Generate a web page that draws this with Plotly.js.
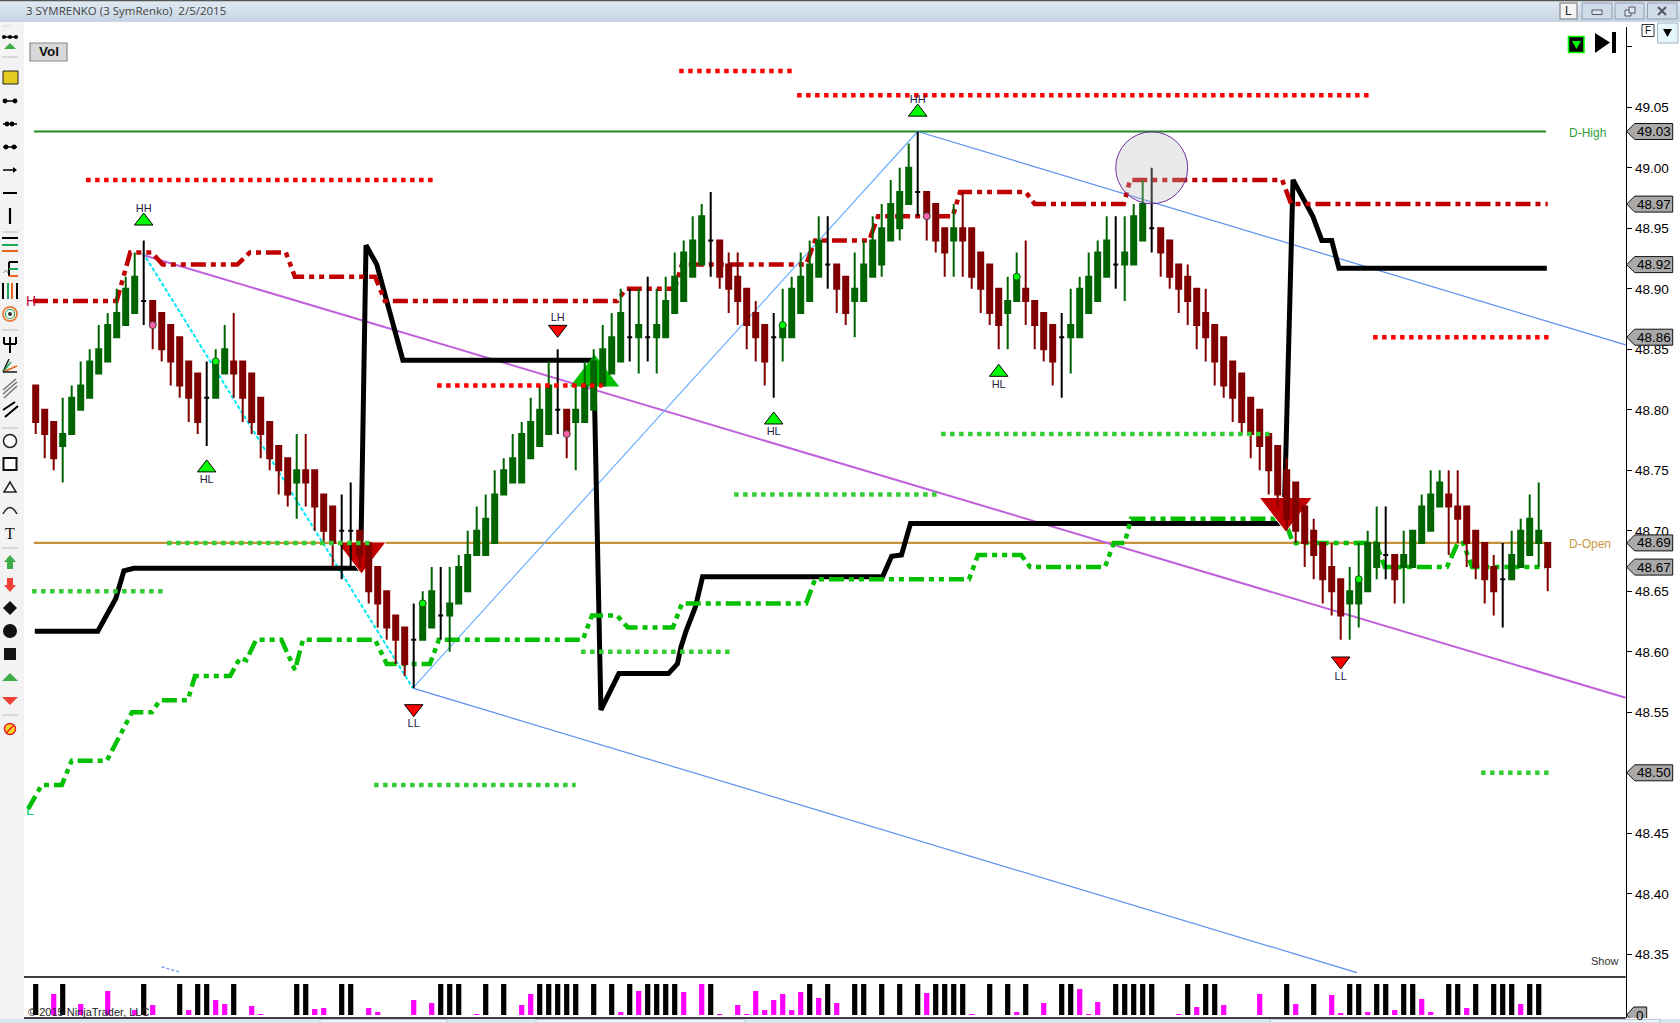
<!DOCTYPE html>
<html><head><meta charset="utf-8">
<script src="https://cdn.plot.ly/plotly-3.0.1.min.js"></script>
<style>html,body{margin:0;padding:0;background:#fff;overflow:hidden}#c{width:1680px;height:1023px}</style>
</head><body><div id="c"></div>
<script>
// ---------- price data (one renko bar per index) ----------
const opens=[48.82,48.80,48.79,48.77,48.78,48.80,48.81,48.83,48.84,48.86,
48.87,48.88,48.89,48.89,48.88,48.87,48.86,48.84,48.83,48.81,
48.81,48.83,48.84,48.84,48.83,48.81,48.79,48.77,48.76,48.74,
48.75,48.75,48.73,48.72,48.70,48.70,48.70,48.69,48.67,48.65,
48.63,48.62,48.61,48.61,48.62,48.63,48.63,48.64,48.65,48.68,
48.68,48.69,48.73,48.74,48.74,48.76,48.77,48.78,48.80,48.80,
48.79,48.79,48.80,48.82,48.83,48.84,48.86,48.86,48.86,48.86,
48.86,48.88,48.89,48.91,48.92,48.94,48.94,48.92,48.91,48.90,
48.88,48.87,48.86,48.86,48.86,48.88,48.89,48.91,48.92,48.92,
48.91,48.89,48.89,48.91,48.92,48.94,48.95,48.97,48.98,48.98,
48.97,48.95,48.94,48.95,48.95,48.93,48.92,48.90,48.88,48.89,
48.90,48.89,48.88,48.87,48.86,48.86,48.86,48.88,48.89,48.91,
48.92,48.92,48.92,48.94,48.95,48.95,48.94,48.92,48.91,48.90,
48.88,48.87,48.86,48.84,48.83,48.81,48.80,48.78,48.77,48.75,
48.74,48.72,48.70,48.69,48.67,48.66,48.64,48.64,48.65,48.67,
48.68,48.68,48.67,48.67,48.69,48.70,48.72,48.73,48.72,48.72,
48.70,48.69,48.67,48.66,48.66,48.67,48.68,48.69,48.69];
const closes=[48.79,48.78,48.76,48.78,48.81,48.82,48.84,48.85,48.87,48.88,
48.90,48.91,48.89,48.87,48.85,48.84,48.82,48.81,48.79,48.81,
48.84,48.85,48.83,48.81,48.79,48.78,48.76,48.75,48.73,48.75,
48.74,48.72,48.70,48.69,48.70,48.70,48.68,48.65,48.64,48.62,
48.61,48.59,48.61,48.64,48.65,48.63,48.64,48.67,48.68,48.70,
48.71,48.73,48.75,48.76,48.78,48.79,48.80,48.82,48.80,48.78,
48.80,48.82,48.84,48.85,48.86,48.88,48.86,48.87,48.86,48.87,
48.89,48.91,48.93,48.94,48.96,48.94,48.91,48.90,48.89,48.87,
48.86,48.84,48.86,48.87,48.90,48.91,48.92,48.94,48.92,48.90,
48.88,48.90,48.92,48.94,48.95,48.97,48.98,49.00,48.98,48.96,
48.94,48.93,48.95,48.94,48.91,48.90,48.88,48.87,48.89,48.91,
48.89,48.87,48.85,48.84,48.86,48.87,48.90,48.91,48.93,48.94,
48.92,48.93,48.96,48.97,48.95,48.93,48.91,48.90,48.89,48.87,
48.86,48.84,48.82,48.81,48.79,48.78,48.77,48.75,48.73,48.71,
48.70,48.69,48.68,48.66,48.65,48.63,48.65,48.66,48.69,48.69,
48.68,48.66,48.68,48.70,48.72,48.73,48.74,48.72,48.71,48.69,
48.67,48.66,48.65,48.66,48.68,48.70,48.71,48.70,48.67];
const highs=[48.82,48.80,48.79,48.81,48.82,48.84,48.85,48.87,48.88,48.90,
48.91,48.93,48.94,48.89,48.88,48.87,48.86,48.84,48.83,48.84,
48.85,48.87,48.88,48.84,48.83,48.81,48.79,48.77,48.76,48.78,
48.78,48.75,48.73,48.72,48.73,48.74,48.70,48.69,48.67,48.65,
48.63,48.62,48.64,48.65,48.67,48.67,48.67,48.68,48.70,48.72,
48.73,48.75,48.76,48.78,48.79,48.81,48.82,48.84,48.85,48.80,
48.82,48.84,48.85,48.87,48.88,48.90,48.90,48.90,48.91,48.90,
48.91,48.93,48.94,48.96,48.97,48.98,48.94,48.93,48.93,48.90,
48.89,48.87,48.88,48.90,48.91,48.93,48.94,48.96,48.96,48.92,
48.91,48.93,48.94,48.96,48.97,48.99,49.00,49.02,49.03,48.98,
48.97,48.95,48.97,48.98,48.95,48.93,48.92,48.90,48.91,48.93,
48.94,48.89,48.88,48.87,48.88,48.90,48.91,48.93,48.94,48.96,
48.96,48.96,48.97,48.99,49.00,48.95,48.94,48.92,48.92,48.90,
48.90,48.87,48.86,48.84,48.83,48.81,48.80,48.78,48.77,48.76,
48.74,48.72,48.71,48.69,48.69,48.66,48.67,48.69,48.70,48.72,
48.72,48.68,48.70,48.70,48.73,48.75,48.75,48.75,48.75,48.72,
48.70,48.69,48.68,48.69,48.70,48.71,48.73,48.74,48.69];
const lows=[48.78,48.76,48.75,48.74,48.78,48.80,48.81,48.83,48.84,48.86,
48.87,48.88,48.87,48.85,48.84,48.82,48.81,48.79,48.78,48.77,
48.81,48.83,48.81,48.79,48.78,48.76,48.75,48.73,48.72,48.71,
48.72,48.70,48.69,48.67,48.66,48.67,48.67,48.64,48.62,48.61,
48.59,48.58,48.57,48.61,48.62,48.61,48.60,48.64,48.65,48.68,
48.68,48.69,48.73,48.74,48.74,48.76,48.77,48.78,48.78,48.76,
48.75,48.79,48.80,48.82,48.83,48.84,48.84,48.83,48.84,48.83,
48.86,48.88,48.89,48.91,48.92,48.91,48.90,48.88,48.87,48.85,
48.84,48.82,48.81,48.84,48.86,48.88,48.89,48.91,48.90,48.88,
48.87,48.86,48.89,48.91,48.91,48.94,48.94,48.97,48.96,48.94,
48.93,48.91,48.91,48.91,48.90,48.88,48.87,48.85,48.85,48.89,
48.87,48.85,48.84,48.82,48.81,48.83,48.86,48.88,48.89,48.91,
48.90,48.89,48.92,48.94,48.93,48.91,48.90,48.88,48.87,48.85,
48.84,48.82,48.81,48.79,48.78,48.76,48.75,48.73,48.72,48.70,
48.69,48.67,48.66,48.64,48.63,48.61,48.61,48.62,48.65,48.66,
48.66,48.64,48.64,48.67,48.69,48.70,48.72,48.68,48.69,48.67,
48.66,48.64,48.63,48.62,48.66,48.67,48.68,48.67,48.65];

// ---------- volume panel ----------
const blackVolBars=[0,3,12,16,18,19,22,29,30,34,35,45,46,47,50,52,56,57,58,59,60,62,64,66,68,69,70,71,75,86,88,91,92,94,96,98,100,101,102,103,106,108,110,114,115,120,121,122,123,124,128,130,131,139,142,146,147,149,150,152,153,157,158,160,162,163,164,166,167];
const blackVolValue=93;
const magentaVolBars=[2,5,8,11,13,17,20,21,24,25,31,32,37,38,42,44,49,54,55,65,67,72,74,76,78,79,80,81,82,83,84,85,87,89,99,104,109,112,116,117,118,127,129,132,136,140,144,145,148,151,154,155,159,165];
const magentaVolValues=[63,33,72,15,30,15,45,33,27,3,18,21,21,9,45,36,3,30,63,9,72,69,93,3,30,3,72,15,45,63,15,69,51,36,66,3,9,36,78,3,39,3,24,30,63,33,60,6,9,15,48,9,21,33];

// ---------- indicator lines [bar index, price] ----------
const highStopX=[-0.3,9,10.5,12.9,14.1,22.4,23.8,27.8,28.8,37.7,38.8,64.6,65.6,71,71.8,85.6,86.6,92.6,93.6,101.9,102.7,110,111,120.9,121.6,138.5,139.5,168];
const highStopY=[48.89,48.89,48.93,48.93,48.92,48.92,48.93,48.93,48.91,48.91,48.89,48.89,48.90,48.90,48.92,48.92,48.94,48.94,48.96,48.96,48.98,48.98,48.97,48.97,48.99,48.99,48.97,48.97];
const lowStopX=[-0.85,0.67,2.9,4,7.9,10.7,12.9,13.8,16.9,17.7,21.6,22.7,23.4,24.5,27.3,28.8,29.7,37.7,39,43.8,44.8,60.8,61.8,64.6,65.8,70.8,71.8,85.6,86.6,103.7,104.7,109.5,110.5,118.8,119.8,121,121.7,138.7,139.7,148.9,149.9,156.8,158,158.6,159.6,167.7];
const lowStopY=[48.47,48.49,48.49,48.51,48.51,48.55,48.55,48.56,48.56,48.58,48.58,48.595,48.593,48.61,48.61,48.585,48.61,48.61,48.59,48.59,48.61,48.61,48.63,48.63,48.62,48.62,48.64,48.64,48.66,48.66,48.68,48.68,48.67,48.67,48.69,48.69,48.71,48.71,48.69,48.69,48.67,48.67,48.69,48.69,48.67,48.67];
const trendX=[-0.1,6.9,8.9,9.8,10.9,36.1,36.7,37.9,40.8,62,62.8,64.8,70.3,71.3,71.7,72.3,73.3,74.1,94.1,95.1,96.2,97.2,138.7,139.7,141.9,142.9,144,144.8,167.9];
const trendY=[48.617,48.617,48.644,48.667,48.669,48.669,48.936,48.92,48.841,48.841,48.552,48.582,48.582,48.59,48.604,48.618,48.637,48.662,48.662,48.679,48.68,48.706,48.706,48.99,48.96,48.94,48.94,48.917,48.917];

// level segments: start bar, end bar, price
const redDots=[[5.6,44.1,48.99],[71.5,84.2,49.08],[84.6,148.2,49.06],[148.6,168.1,48.86],[44.6,63,48.82]];
const greenDots=[[14.6,37.1,48.69],[-0.4,14.2,48.65],[60.6,77.1,48.60],[77.6,100.2,48.73],[100.6,137.2,48.78],[160.6,168.1,48.50],[37.6,60,48.49]];
const dayLevels=[{name:'D-High',price:49.03,color:'#1f8a1f'},{name:'D-Open',price:48.69,color:'#c4923a'}];
const dayLabelColors=['#2f9e3a','#c8983f'];

// drawn trend lines
const channelPurple={x:[11.9,176.67],y:[48.928,48.562]};
const channelCyan={x:[11.9,41.9],y:[48.93,48.57]};
const channelUp={x:[41.9,98],y:[48.57,49.03]};
const channelDownA={x:[98,176.67],y:[49.03,48.8536]};
const channelDownB={x:[41.9,146.8],y:[48.57,48.3348]};
const stubLine={x:[14,16],y:[48.3396,48.3354]};

// swing labels
const swingUpX=[12,19,98,82,107];
const swingUpY=[48.956,48.752,49.046,48.7916,48.831];
const swingDownX=[58,42,145];
const swingDownY=[48.8665,48.553,48.5924];
const swingLabels=['HH','HL','HH','HL','HL','LH','LL','LL'];
const swingLabelX=[12,19,98,82,107,58,42,145];
const swingLabelY=[48.9655,48.7415,49.0559,48.7812,48.8205,48.8754,48.5405,48.579];
const bigUpX=[62.1],bigUpY=[48.828];
const bigDownX=[36.2,138.9],bigDownY=[48.682,48.718];
const bigDownSizes=[42.6,46];
const pinkDotX=[13,59,99],pinkDotY=[48.87,48.78,48.96];
const greenDotX=[20,43,83,109,147],greenDotY=[48.84,48.64,48.87,48.91,48.66];
const circleMark={x:[124],y:[49.00]};
const priceTags=[49.03,48.97,48.92,48.86,48.69,48.67,48.50];
const axisTicks=[48.35,48.40,48.45,48.50,48.55,48.60,48.65,48.70,48.75,48.80,48.85,48.90,48.95,49.00,49.05,49.10];

// ---------- geometry of the page ----------
const W=1680,H=1023;
const X=p=>p/W, Y=p=>1-p/H;
const xRange=[(24-35.7)/9,(1680-35.7)/9];
const axisBar=(1625.7-35.7)/9;
const priceRange=[49.05-(977-107.3)/1210,49.05-(27-107.3)/1210];
const SANS='"Liberation Sans",Arial,sans-serif';
const UI='"Open Sans","Noto Sans",sans-serif';

// ---------- traces ----------
const GREEN='#006400',RED='#800000',BLACK='#000';
function pick(test){const r={x:[],open:[],high:[],low:[],close:[]};
  opens.forEach((o,i)=>{if(test(o,closes[i])){r.x.push(i);r.open.push(o);r.high.push(highs[i]);r.low.push(lows[i]);r.close.push(closes[i]);}});return r;}
function candle(d,c){return Object.assign({type:'candlestick',yaxis:'y3',xaxis:'x',whiskerwidth:0,showlegend:false,hoverinfo:'skip',
  increasing:{line:{color:c,width:2},fillcolor:c},decreasing:{line:{color:c,width:2},fillcolor:c}},d);}
function line(x,y,color,width,dash,axis){return {type:'scatter',mode:'lines',x,y,xaxis:'x',yaxis:axis||'y',hoverinfo:'skip',showlegend:false,line:{color,width,dash:dash||'solid'}};}
const DASHDOT='15px,5px,5px,5px,5px,5px', DOT='4.5px,4.5px';

const traces=[];
dayLevels.forEach(d=>traces.push(line([-0.2,167.8],[d.price,d.price],d.color,2.2)));
traces.push(line(channelPurple.x,channelPurple.y,'#c060dc',2));
traces.push(line(channelCyan.x,channelCyan.y,'#00e8f8',2,'4px,2px'));
traces.push(line(channelUp.x,channelUp.y,'#6ab2ff',1.2));
traces.push(line(channelDownA.x,channelDownA.y,'#5c8ef0',1.2));
traces.push(line(channelDownB.x,channelDownB.y,'#5c8ef0',1.2));
traces.push(line(stubLine.x,stubLine.y,'#5c8ef0',1.2,'3px,2px'));
traces.push(line(trendX,trendY,'#000',5));
traces.push(line(highStopX,highStopY,'#c00000',4.5,DASHDOT));
traces.push(line(lowStopX,lowStopY,'#00c000',4.5,DASHDOT));
traces.push({type:'scatter',mode:'markers',x:bigUpX,y:bigUpY,xaxis:'x',yaxis:'y',hoverinfo:'skip',showlegend:false,marker:{symbol:'triangle-up',size:42.6,color:'#00c000',opacity:1}});
traces.push({type:'scatter',mode:'markers',x:bigDownX,y:bigDownY,xaxis:'x',yaxis:'y',hoverinfo:'skip',showlegend:false,marker:{symbol:'triangle-down',size:bigDownSizes,color:'#c00000',opacity:1}});
// bars over the underlay
traces.push(candle(pick((o,c)=>c>o),GREEN));
traces.push(candle(pick((o,c)=>c<o),RED));
traces.push(candle(pick((o,c)=>c===o),BLACK));
// top layer
redDots.forEach(s=>traces.push(line([s[0],s[1]],[s[2],s[2]],'#ff0000',4.5,DOT,'y4')));
greenDots.forEach(s=>traces.push(line([s[0],s[1]],[s[2],s[2]],'#33cc33',4.5,DOT,'y4')));
function marks(x,y,symbol,size,color,lc,lw){return {type:'scatter',mode:'markers',x,y,xaxis:'x',yaxis:'y4',hoverinfo:'skip',showlegend:false,cliponaxis:false,marker:{symbol,size,color,line:{color:lc,width:lw}}};}
traces.push(marks(swingUpX,swingUpY,'triangle-up',16,'#00ff00','#000',1));
traces.push(marks(swingDownX,swingDownY,'triangle-down',16,'#ff0000','#000',1));
traces.push(marks(pinkDotX,pinkDotY,'circle',7,'#ff5fa8','#444',1));
traces.push(marks(greenDotX,greenDotY,'circle',7,'#00ff00','#1a4a1a',1));
traces.push(marks(circleMark.x,circleMark.y,'circle',72,'rgba(190,190,190,0.32)','#7030a0',1));
traces.push({type:'scatter',mode:'text',x:swingLabelX,y:swingLabelY,text:swingLabels,xaxis:'x',yaxis:'y4',hoverinfo:'skip',showlegend:false,textposition:'middle center',textfont:{family:SANS,size:11,color:'#222244'}});
// volume
traces.push({type:'bar',x:blackVolBars,y:blackVolBars.map(()=>blackVolValue),xaxis:'x2',yaxis:'y2',width:0.58,marker:{color:'#000',line:{width:0}},hoverinfo:'skip',showlegend:false});
traces.push({type:'bar',x:magentaVolBars,y:magentaVolValues,xaxis:'x2',yaxis:'y2',width:0.58,marker:{color:'#ff00ff',line:{width:0}},hoverinfo:'skip',showlegend:false});

// ---------- window chrome and toolbar (decoration) ----------
const shapes=[],ann=[];
function rect(x0,y0,x1,y1,fill,lc,lw){shapes.push({type:'rect',xref:'paper',yref:'paper',x0:X(x0),x1:X(x1),y0:Y(y0),y1:Y(y1),fillcolor:fill||'rgba(0,0,0,0)',line:{color:lc||'rgba(0,0,0,0)',width:lc?(lw||1):0},layer:'above'});}
function seg(x0,y0,x1,y1,c,w){shapes.push({type:'line',xref:'paper',yref:'paper',x0:X(x0),x1:X(x1),y0:Y(y0),y1:Y(y1),line:{color:c||'#000',width:w||1},layer:'above'});}
function circ(cx,cy,r,fill,lc,lw){shapes.push({type:'circle',xref:'paper',yref:'paper',x0:X(cx-r),x1:X(cx+r),y0:Y(cy-r),y1:Y(cy+r),fillcolor:fill||'rgba(0,0,0,0)',line:{color:lc||'rgba(0,0,0,0)',width:lc?(lw||1):0},layer:'above'});}
function poly(pts,fill,lc,lw){shapes.push({type:'path',xref:'paper',yref:'paper',path:'M'+pts.map(p=>X(p[0])+','+Y(p[1])).join('L')+'Z',fillcolor:fill||'rgba(0,0,0,0)',line:{color:lc||'rgba(0,0,0,0)',width:lc?(lw||1):0},layer:'above'});}
function label(x,y,text,o){ann.push(Object.assign({xref:'paper',yref:'paper',x:X(x),y:Y(y),text,showarrow:false,xanchor:'left',yanchor:'middle',font:{family:SANS,size:12,color:'#222'}},o||{}));}

// title bar
const bar=['#dfe8f1','#dbe5ef','#d7e2ed','#d3dfea','#cfdce8','#cbd9e6','#c8d6e4'];
bar.forEach((c,i)=>rect(0,1+i*3,W,4+i*3,c));
rect(0,0,W,1.2,'#555');
label(24,10.5,'3 SYMRENKO (3 SymRenko)  2/5/2015',{font:{family:UI,size:11.5,color:'#444'}});
rect(1560,3,1577,19,'#f4f4f4','#999',1.5);
label(1568.5,11,'L',{xanchor:'center',font:{family:SANS,size:12,color:'#222'}});
[[1582,1612],[1615,1644],[1647.5,1677]].forEach(b=>rect(b[0],3,b[1],19,'#cfdbe8','#90a0b0',1));
rect(1592,10,1602,14.5,'#dde6ef','#556',1);
rect(1625,10,1631,16,'#dde6ef','#556',1);rect(1629,7,1635,13,'#dde6ef','#556',1);
seg(1658,7,1666,15,'#556',2);seg(1666,7,1658,15,'#556',2);

// left tool strip
rect(0,22,24,1019,'#f3f3f3');
[57,232,330,428,548,715].forEach(y=>seg(2,y,18,y,'#bdbdbd',1));
[3,6,9].forEach(x=>rect(x*1,25.5,x+1,26.5,'#aaa'));
seg(3,37,17,37,'#000',1.5);[4,10,16].forEach(x=>circ(x,37,2,'#000'));
poly([[4,49],[10,43],[16,49]],'#3fae49');
rect(3,71,18,84,'#e2cb1e','#222',1);
[101,124,147].forEach((y,k)=>{seg(3,y,17,y,'#000',1.5);circ(k==0?5:k==1?7:6,y,2.4,'#000');circ(k==0?15:k==1?12:14,y,2.4,'#000');});
seg(3,170,16,170,'#000',1.5);poly([[13,167],[17,170],[13,173]],'#000');
seg(3,193,17,193,'#000',2);
seg(10,208,10,224,'#000',2.2);
seg(2,238,18,238,'#000',2);seg(2,245,18,245,'#1faa59',2);seg(2,251,18,251,'#e8641e',2);
seg(9,262,9,276,'#000',2);seg(9,262,18,262,'#000',2);seg(9,269,18,269,'#1faa59',2);seg(9,276,18,276,'#e8641e',2);
seg(3,273,6,270,'#888',1);seg(6,270,8,273,'#888',1);
seg(3,283,3,299,'#000',2);seg(8,283,8,299,'#1faa59',2);seg(12,283,12,299,'#e8641e',2);seg(17,283,17,299,'#000',2);
circ(10,314,7,'#fff','#e8824a',2);circ(10,314,4.5,'#fff','#1faa59',1.2);circ(10,314,2,'#333');
seg(10,337,10,353,'#000',2);seg(4,337,4,344,'#000',2);seg(16,337,16,344,'#000',2);seg(4,344,16,344,'#000',2);
seg(3,372,9,359,'#222',1.6);seg(3,372,11,362,'#1faa59',1.4);seg(3,372,17,366,'#e8641e',1.4);seg(3,372,17,372,'#222',1.6);
seg(3,390,16,379,'#777',1.6);seg(3,394,17,382,'#777',1.6);seg(4,398,17,386,'#777',1.6);
seg(3,410,15,402,'#000',2);seg(5,417,18,406,'#000',2);
circ(10,441,6.5,'#fff','#222',1.5);
rect(3.5,458,16.5,470,'#fff','#111',2);
poly([[4,492],[10,482],[16,492]],'#fff','#222',1.5);
shapes.push({type:'path',xref:'paper',yref:'paper',layer:'above',path:`M${X(3)},${Y(514)} Q${X(10)},${Y(501)} ${X(17)},${Y(514)}`,line:{color:'#222',width:1.5}});
label(10,533,'T',{xanchor:'center',font:{family:'"Liberation Serif",serif',size:16,color:'#111'}});
poly([[10,555],[16,562],[13,562],[13,569],[7,569],[7,562],[4,562]],'#3fae49');
poly([[7,578],[13,578],[13,585],[16,585],[10,592],[4,585],[7,585]],'#ef4136');
poly([[10,601],[17,608],[10,615],[3,608]],'#111');
circ(10,631,7,'#111');
rect(4,648,16,660,'#151515');
poly([[2,681],[10,673],[18,681]],'#3fae49');
poly([[2,697],[18,697],[10,705]],'#ef4136');
circ(10,729,5.5,'#ffd22a','#e02020',1.4);seg(6,733,14,725,'#e02020',1.4);

// chart annotations
rect(30,43,67,61,'#d8d8d8','#8a8a8a',1.2);
label(48.5,52,'<b>Vol</b>',{xanchor:'center',font:{family:SANS,size:13.5,color:'#111'}});
rect(1568.5,36.5,1584,52.5,'#000','#00ff00',1.6);
poly([[1572,41],[1581,41],[1576.5,49]],'#00ff00');
poly([[1595,33],[1610,42.5],[1595,53]],'#000');
rect(1612,32,1616,53,'#000');
rect(1642,24.5,1654,36.5,'#fff','#333',1);
label(1648,30.5,'F',{xanchor:'center',font:{family:SANS,size:10,color:'#111'}});
rect(1657.5,23,1678,43,'#e6f7fc','#9fb6c0',1);
poly([[1663,29],[1672,29],[1667.5,37]],'#000');
label(1566.5,133,'D-High',{font:{family:SANS,size:12,color:dayLabelColors[0]}});
label(1566.5,544,'D-Open',{font:{family:SANS,size:12,color:dayLabelColors[1]}});
label(1589,961,'Show',{font:{family:SANS,size:11,color:'#333'}});
label(26,1012,'© 2015 NinjaTrader, LLC',{font:{family:SANS,size:11,color:'#222'}});
label(23.5,301,'H',{font:{family:SANS,size:14,color:'#c00030'}});
label(23.5,810,'L',{font:{family:SANS,size:14,color:'#00c870'}});

// panel rules
seg(24,977,1625.7,977,'#000',1.5);
seg(24,1018,1625.7,1018,'#000',1.5);

// bottom tabs
rect(0,1019,W,1023,'#dbe5ef');
[[320,447],[536,745],[1270,1660]].forEach(b=>rect(b[0],1019.5,b[1],1023,'#eef3f8','#9fb0c0',0.6));

// price tags: pixel-sized pentagons anchored on the price axis
const tagPath='M1,0L9,-8L47,-8L47,8L9,8Z';
priceTags.forEach(p=>{
  shapes.push({type:'path',xsizemode:'pixel',ysizemode:'pixel',xref:'x',yref:'y4',xanchor:axisBar,yanchor:p,path:tagPath,fillcolor:'#a9a9a9',line:{color:'#111',width:1},layer:'above'});
  ann.push({xref:'x',yref:'y4',x:axisBar,y:p,xshift:28,text:p.toFixed(2),showarrow:false,xanchor:'center',yanchor:'middle',font:{family:SANS,size:13.5,color:'#000'}});
});
shapes.push({type:'path',xsizemode:'pixel',ysizemode:'pixel',xref:'x2',yref:'y2',xanchor:axisBar,yanchor:0,path:'M1,0L8,-8L21,-8L21,8L8,8Z',fillcolor:'#a9a9a9',line:{color:'#111',width:1},layer:'above'});
ann.push({xref:'x2',yref:'y2',x:axisBar,y:0,xshift:14,text:'0',showarrow:false,xanchor:'center',yanchor:'middle',font:{family:SANS,size:13.5,color:'#000'}});

const mainDomain=[1-977/H,1-27/H], volDomain=[1-1018/H,1-977/H];
const axisPos=1625.7/W;
const layout={width:W,height:H,margin:{l:0,r:0,t:0,b:0,autoexpand:false},paper_bgcolor:'#fff',plot_bgcolor:'rgba(0,0,0,0)',showlegend:false,hovermode:false,barmode:'overlay',boxgap:0.444,boxgroupgap:0,boxmode:'overlay',
  xaxis:{domain:[24/W,1],range:xRange,rangeslider:{visible:false},showgrid:false,zeroline:false,showticklabels:false,ticks:'',showline:false,anchor:'y',fixedrange:true},
  xaxis2:{domain:[24/W,1],range:xRange,showgrid:false,zeroline:false,showticklabels:false,ticks:'outside',ticklen:2,tickwidth:1,tickcolor:'#000',tickmode:'array',tickvals:[0,9,18,27,36,45,54,63,72,81,90,99,108,117,126,135,144,153,162,171],showline:false,anchor:'y2',fixedrange:true},
  yaxis:{domain:mainDomain,range:priceRange,side:'right',anchor:'free',position:axisPos,showgrid:false,zeroline:false,showline:true,linecolor:'#000',linewidth:1.5,ticks:'outside',ticklen:5,tickwidth:1,tickcolor:'#000',tickmode:'array',tickvals:axisTicks,ticktext:axisTicks.map(v=>v>49.06?'':v.toFixed(2)),tickfont:{family:SANS,size:13.5,color:'#000'},fixedrange:true},
  yaxis2:{domain:volDomain,range:[-9,114],side:'right',anchor:'free',position:axisPos,showgrid:false,zeroline:false,showline:true,linecolor:'#000',linewidth:1.5,ticks:'',showticklabels:false,fixedrange:true},
  yaxis3:{overlaying:'y',range:priceRange,visible:false,fixedrange:true,anchor:'x'},
  yaxis4:{overlaying:'y',range:priceRange,visible:false,fixedrange:true,anchor:'x'},
  shapes,annotations:ann};
Plotly.newPlot('c',traces,layout,{displayModeBar:false,staticPlot:true});
</script></body></html>
